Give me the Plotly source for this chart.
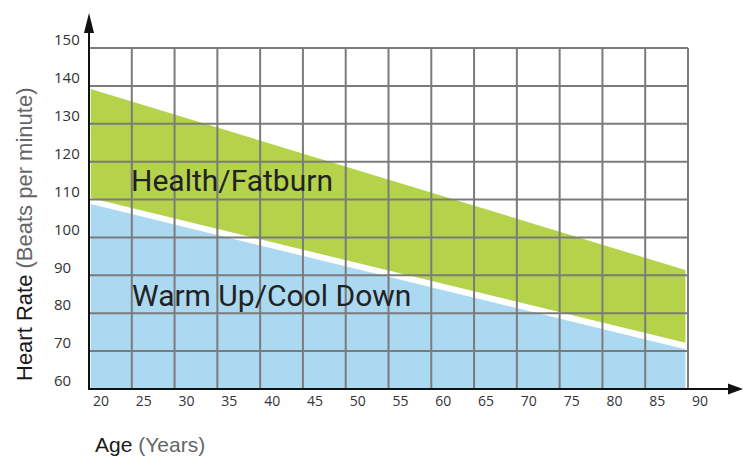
import plotly.graph_objects as go

# ---- data ----
ages = [20.2, 89.7]
health_top = [139.2, 91.4]
health_bottom = [110.4, 72.2]
warmup_top = [108.8, 70.5]
warmup_bottom = [60, 60]

x_ticks = list(range(20, 95, 5))
y_ticks = list(range(60, 160, 10))
x_labels = [str(v) for v in x_ticks]
y_labels = [str(v) for v in y_ticks]

zone_names = ["Health/Fatburn", "Warm Up/Cool Down"]

# ---- styling ----
GREEN = "#b5d34a"
BLUE = "#acd9f2"
GRID = "#7b7b7b"
AXIS = "#111111"

X_RANGE = [19.766, 90.234]
Y_RANGE = [59.472, 150.528]


def px(v):
    return (v - X_RANGE[0]) / (X_RANGE[1] - X_RANGE[0])


def py(v):
    return (v - Y_RANGE[0]) / (Y_RANGE[1] - Y_RANGE[0])


fig = go.Figure()

fig.add_trace(go.Scatter(
    x=ages + ages[::-1], y=warmup_top + warmup_bottom[::-1],
    fill="toself", fillcolor=BLUE, mode="lines", line=dict(width=0),
    hoverinfo="skip", showlegend=False))
fig.add_trace(go.Scatter(
    x=ages + ages[::-1], y=health_top + health_bottom[::-1],
    fill="toself", fillcolor=GREEN, mode="lines", line=dict(width=0),
    hoverinfo="skip", showlegend=False))

shapes = []
for v in x_ticks[1:]:
    shapes.append(dict(type="line", xref="x", yref="y", x0=v, x1=v,
                       y0=y_ticks[0], y1=y_ticks[-1],
                       line=dict(color=GRID, width=2), layer="above"))
for v in y_ticks[1:]:
    shapes.append(dict(type="line", xref="x", yref="y", x0=x_ticks[0], x1=x_ticks[-1],
                       y0=v, y1=v,
                       line=dict(color=GRID, width=2), layer="above"))

x_tip = 1.0879
y_tip = 1.0957
# axis lines
shapes.append(dict(type="line", xref="paper", yref="paper",
                   x0=px(x_ticks[0]) - 0.0017, x1=x_tip - 0.02,
                   y0=py(y_ticks[0]), y1=py(y_ticks[0]),
                   line=dict(color=AXIS, width=2), layer="above"))
shapes.append(dict(type="line", xref="paper", yref="paper",
                   x0=px(x_ticks[0]), x1=px(x_ticks[0]),
                   y0=py(y_ticks[0]) - 0.003, y1=y_tip - 0.04,
                   line=dict(color=AXIS, width=2), layer="above"))
# arrow heads
shapes.append(dict(type="path", xref="paper", yref="paper",
                   xsizemode="pixel", ysizemode="pixel",
                   xanchor=x_tip, yanchor=py(y_ticks[0]),
                   path="M0,0 L-15,5.5 L-15,-5.5 Z",
                   fillcolor=AXIS, line=dict(width=0), layer="above"))
shapes.append(dict(type="path", xref="paper", yref="paper",
                   xsizemode="pixel", ysizemode="pixel",
                   xanchor=px(x_ticks[0]), yanchor=y_tip,
                   path="M0,0 L-5,-20 L5,-20 Z",
                   fillcolor=AXIS, line=dict(width=0), layer="above"))

annotations = [
    dict(text=zone_names[0], x=24.7, y=115, xref="x", yref="y",
         xanchor="left", yanchor="middle", showarrow=False,
         font=dict(family="Roboto", size=30, color="#222222")),
    dict(text=zone_names[1], x=24.75, y=84.6, xref="x", yref="y",
         xanchor="left", yanchor="middle", showarrow=False,
         font=dict(family="Roboto", size=30, color="#222222")),
    dict(text="Heart Rate <span style='color:#666666'>(Beats per minute)</span>",
         textangle=-90, x=(25 - 87) / 603, y=(391 - 235) / 345,
         xref="paper", yref="paper", xanchor="center", yanchor="middle",
         showarrow=False,
         font=dict(family="Liberation Sans", size=22, color="#1a1a1a")),
    dict(text="Age <span style='color:#666666'>(Years)</span>",
         x=(149.5 - 87) / 603, y=(391 - 444) / 345,
         xref="paper", yref="paper", xanchor="center", yanchor="middle",
         showarrow=False,
         font=dict(family="Liberation Sans", size=21, color="#1a1a1a")),
]

fig.update_layout(
    width=743, height=457,
    margin=dict(l=87, r=53, t=46, b=66),
    paper_bgcolor="white", plot_bgcolor="white",
    shapes=shapes, annotations=annotations,
    showlegend=False,
    xaxis=dict(range=X_RANGE, tickvals=x_ticks, ticktext=x_labels,
               showgrid=False, zeroline=False, showline=False, ticks="",
               ticklabelshift=12, ticklabelstandoff=0,
               tickfont=dict(family="Open Sans", size=14, color="#333333"),
               fixedrange=True),
    yaxis=dict(range=Y_RANGE, tickvals=y_ticks, ticktext=y_labels,
               showgrid=False, zeroline=False, showline=False, ticks="",
               ticklabelposition="inside", ticklabelstandoff=-36,
               ticklabeloverflow="allow", ticklabelshift=-8,
               tickfont=dict(family="Open Sans", size=15, color="#333333"),
               fixedrange=True),
)

fig.write_html("out.html", config={"displayModeBar": False},
               post_script="document.body.style.margin='0';")
